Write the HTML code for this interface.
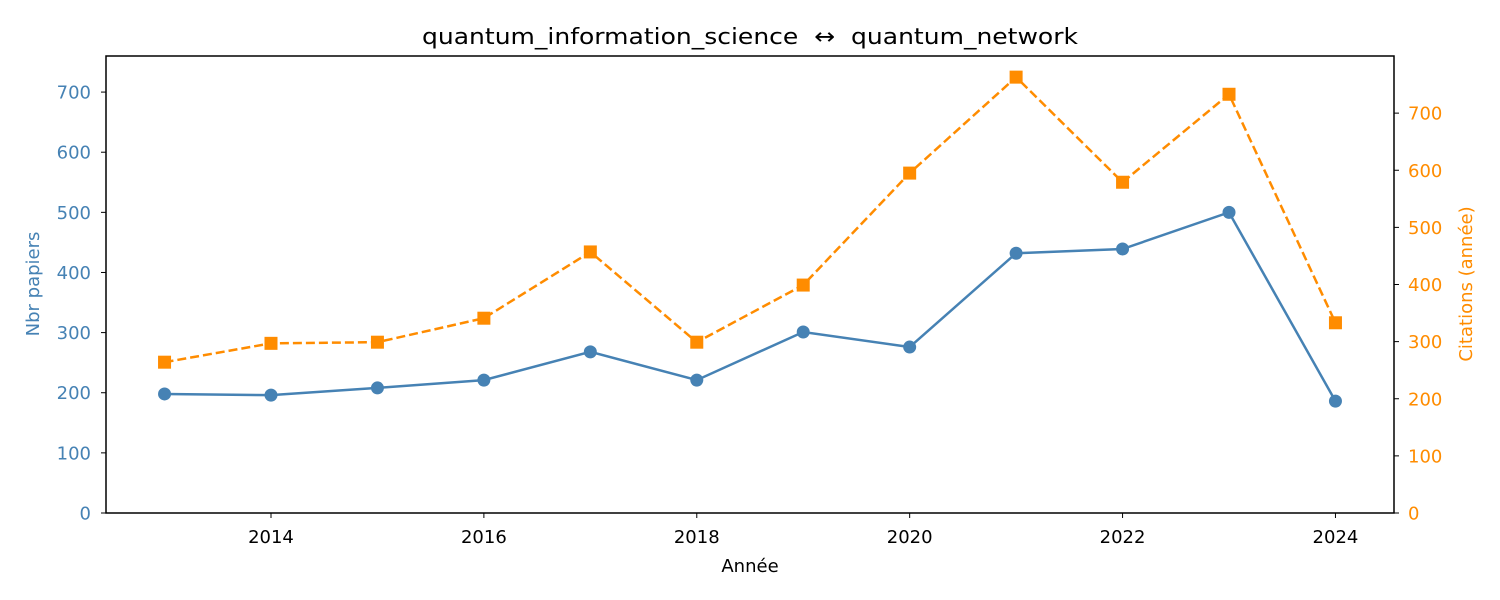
<!DOCTYPE html>
<html><head><meta charset="utf-8"><style>
body{margin:0;background:#fff;}
svg{display:block;font-family:"DejaVu Sans","Liberation Sans",sans-serif;}
</style></head><body>
<svg id="chart" width="1500" height="600"></svg>
<script>
const years=[2013,2014,2015,2016,2017,2018,2019,2020,2021,2022,2023,2024];
const papers=[198,196,208,221,268,221,301,276,432,439,500,186];
const citations=[264,297,299,341,457,299,399,595,763,579,733,333];
const xTicks=[2014,2016,2018,2020,2022,2024];
const yLeftTicks=[0,100,200,300,400,500,600,700];
const yRightTicks=[0,100,200,300,400,500,600,700];
const L=106,R=1394,T=56,B=513;
const xs=v=>L+(v-2012.45)/(2024.55-2012.45)*(R-L);
const yl=v=>B-v/760*(B-T);
const yr=v=>B-v/800*(B-T);
const svg=document.getElementById('chart');
const NS='http://www.w3.org/2000/svg';
function mk(tag,attrs,parent){const e=document.createElementNS(NS,tag);for(const k in attrs)e.setAttribute(k,attrs[k]);(parent||svg).appendChild(e);return e;}
function txt(s,attrs){const e=mk('text',attrs);e.textContent=s;return e;}
const BLUE='#4682b4',OR='#ff8c00';
const FS=18;
xTicks.forEach(v=>{const g=mk('g',{});


mk('line',{x1:xs(v),x2:xs(v),y1:B,y2:B+5,stroke:'#000','stroke-width':1},g);
const t=mk('text',{x:xs(v),y:B+30,'text-anchor':'middle','font-size':FS,fill:'#000'},g);t.textContent=v;});
yLeftTicks.forEach(v=>{const g=mk('g',{});


mk('line',{x1:L-5,x2:L,y1:yl(v),y2:yl(v),stroke:'#000','stroke-width':1},g);
const t=mk('text',{x:L-15,y:yl(v)+6.5,'text-anchor':'end','font-size':FS,fill:BLUE},g);t.textContent=v;});
yRightTicks.forEach(v=>{const g=mk('g',{});


mk('line',{x1:R,x2:R+5,y1:yr(v),y2:yr(v),stroke:'#000','stroke-width':1},g);
const t=mk('text',{x:R+14,y:yr(v)+6.5,'text-anchor':'start','font-size':FS,fill:OR},g);t.textContent=v;});
const pl=mk('polyline',{points:years.map((y,i)=>xs(y)+','+yl(papers[i])).join(' '),fill:'none',stroke:BLUE,'stroke-width':2.5});


const ol=mk('polyline',{points:years.map((y,i)=>xs(y)+','+yr(citations[i])).join(' '),fill:'none',stroke:OR,'stroke-width':2.5,'stroke-dasharray':'9,4'});


years.forEach((y,i)=>{
const c=mk('circle',{cx:xs(y),cy:yl(papers[i]),r:6.5,fill:BLUE});


const s=mk('rect',{x:xs(y)-6.5,y:yr(citations[i])-6.5,width:13,height:13,fill:OR});


});
const fr=mk('rect',{x:L,y:T,width:R-L,height:B-T,fill:'none',stroke:'#000','stroke-width':1.5});


const t1=txt('quantum_information_science  ↔  quantum_network',{x:422,y:44,'font-size':22.5,fill:'#000',style:'white-space:pre',textLength:656,lengthAdjust:'spacingAndGlyphs'});


const t2=txt('Année',{x:750,y:572,'text-anchor':'middle','font-size':FS,fill:'#000'});


const t3=txt('Nbr papiers',{x:0,y:0,'text-anchor':'middle','font-size':FS,fill:BLUE,transform:'translate(39,284) rotate(-90)'});


const t4=txt('Citations (année)',{x:0,y:0,'text-anchor':'middle','font-size':FS,fill:OR,transform:'translate(1472,284) rotate(-90)'});


</script>
</body></html>
